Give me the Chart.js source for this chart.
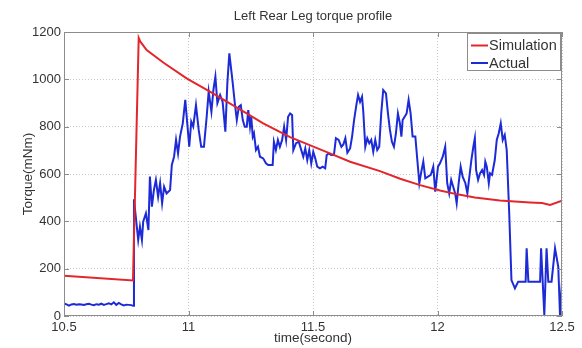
<!DOCTYPE html>
<html>
<head>
<meta charset="utf-8">
<script src="https://cdn.jsdelivr.net/npm/chart.js@4.4.1/dist/chart.umd.min.js"></script>
<style>
  html, body { margin: 0; padding: 0; background: #fff; }
  #c { display: block; }
</style>
</head>
<body>
<canvas id="c" width="582" height="348"></canvas>
<script>
'use strict';

// ── Data ──────────────────────────────────────────────────────────────────────
const TITLE   = 'Left Rear Leg torque profile';
const X_LABEL = 'time(second)';
const Y_LABEL = 'Torque(mNm)';
const X_TICKS = ['10.5', '11', '11.5', '12', '12.5'];
const Y_TICKS = ['0', '200', '400', '600', '800', '1000', '1200'];
const SERIES  = ['Simulation', 'Actual'];

const SIM_T = [10.5, 10.777, 10.8, 10.806, 10.832, 10.9, 10.994, 11.086, 11.247, 11.3,
               11.408, 11.568, 11.649, 11.769, 11.85, 11.93, 12.01, 12.08, 12.15, 12.25,
               12.371, 12.42, 12.452, 12.5];
const SIM_V = [170, 150, 1175, 1160, 1124, 1070, 1003, 948, 848, 814,
               756, 687, 652, 612, 580, 553, 530, 514, 501, 488,
               480, 477, 469, 487];

const ACT_T = [
  10.50, 10.51, 10.52, 10.53, 10.54, 10.55, 10.56, 10.57, 10.58, 10.59,
  10.60, 10.61, 10.62, 10.63, 10.64, 10.65, 10.66, 10.67, 10.68, 10.69,
  10.70, 10.71, 10.72, 10.73, 10.74, 10.75, 10.76, 10.77, 10.778,
  10.781, 10.798, 10.805, 10.813, 10.818, 10.829, 10.839, 10.845, 10.853, 10.861,
  10.869, 10.878, 10.886, 10.894, 10.902, 10.912, 10.926, 10.933, 10.942, 10.950,
  10.958, 10.966, 10.977, 10.987, 10.995, 11.003, 11.011, 11.019, 11.030, 11.041,
  11.051, 11.062, 11.073, 11.081, 11.092, 11.100, 11.108, 11.116, 11.127, 11.137,
  11.148, 11.156, 11.164, 11.177, 11.186, 11.194, 11.202, 11.210, 11.218, 11.226,
  11.234, 11.240, 11.247, 11.252, 11.258, 11.263, 11.271, 11.279, 11.287, 11.300,
  11.311, 11.320, 11.338, 11.343, 11.351, 11.359, 11.367, 11.376, 11.384, 11.392,
  11.400, 11.408, 11.416, 11.421, 11.432, 11.443, 11.453, 11.461, 11.469, 11.477,
  11.485, 11.493, 11.501, 11.509, 11.517, 11.528, 11.539, 11.549, 11.555, 11.563,
  11.573, 11.584, 11.592, 11.603, 11.614, 11.622, 11.630, 11.638, 11.649, 11.657,
  11.665, 11.673, 11.681, 11.689, 11.697, 11.702, 11.710, 11.718, 11.726, 11.734,
  11.742, 11.750, 11.758, 11.766, 11.774, 11.782, 11.793, 11.801, 11.809, 11.817,
  11.825, 11.833, 11.841, 11.849, 11.855, 11.860, 11.868, 11.876, 11.884, 11.892,
  11.900, 11.911, 11.919, 11.927, 11.935, 11.943, 11.951, 11.962, 11.973, 11.983,
  11.991, 12.002, 12.010, 12.021, 12.031, 12.039, 12.047, 12.055, 12.063, 12.071,
  12.077, 12.085, 12.093, 12.101, 12.112, 12.120, 12.128, 12.136, 12.144, 12.150,
  12.155, 12.163, 12.171, 12.179, 12.187, 12.192, 12.198, 12.206, 12.211, 12.219,
  12.230, 12.238, 12.246, 12.254, 12.262, 12.270, 12.278, 12.288, 12.297, 12.311,
  12.324, 12.354, 12.358, 12.365, 12.412, 12.416, 12.429, 12.438, 12.445, 12.458,
  12.472, 12.485, 12.492, 12.500
];
const ACT_V = [
  53, 49, 44, 49, 51, 48, 50, 49, 47, 50,
  52, 48, 46, 50, 48, 52, 47, 50, 54, 49,
  58, 47, 55, 49, 45, 48, 47, 46, 43,
  493, 321, 377, 321, 398, 434, 363, 589, 462, 532,
  575, 504, 561, 476, 546, 518, 532, 638, 673, 744,
  687, 758, 814, 913, 814, 715, 821, 800, 891, 786,
  715, 715, 842, 948, 863, 955, 1011, 899, 934, 905,
  779, 983, 1110, 990, 899, 828, 884, 891, 828, 800,
  800, 870, 800, 842, 758, 772, 701, 715, 673, 666,
  645, 638, 638, 736, 701, 744, 715, 744, 800, 744,
  842, 856, 849, 701, 730, 736, 701, 673, 708, 659,
  701, 645, 694, 666, 631, 624, 631, 624, 680, 687,
  680, 680, 751, 744, 715, 725, 751, 690, 708, 758,
  828, 884, 934, 905, 927, 863, 715, 751, 730, 744,
  694, 744, 701, 715, 856, 955, 941, 856, 786, 736,
  715, 772, 856, 814, 758, 828, 842, 856, 913, 856,
  758, 758, 659, 561, 610, 652, 582, 589, 596, 631,
  525, 631, 645, 673, 715, 561, 518, 575, 546, 518,
  476, 561, 631, 589, 561, 518, 589, 659, 715, 751,
  617, 575, 603, 617, 596, 652, 631, 561, 603, 596,
  659, 744, 772, 814, 744, 765, 701, 434, 152, 117,
  145, 145, 286, 145, 145, 286, 4, 286, 145, 145,
  286, 208, 4, 145
];

// ── Style ─────────────────────────────────────────────────────────────────────
const RED  = '#e3262b';
const BLUE = '#1c2ad8';
const FONT = '"Liberation Sans", Arial, sans-serif';
const TXT  = '#333';

const pts = (ts, vs) => ts.map((t, i) => ({ x: t, y: vs[i] }));

// ── Frame, ticks, titles and legend (MATLAB look) ────────────────────────────
const framePlugin = {
  id: 'frame',
  afterDraw(chart) {
    const { ctx, chartArea: a, scales: { x, y } } = chart;
    ctx.save();
    ctx.strokeStyle = '#8c8c8c';
    ctx.lineWidth = 1;
    ctx.strokeRect(a.left + 0.5, a.top + 0.5, a.width - 1, a.height - 1);

    // inward tick marks
    ctx.beginPath();
    x.ticks.forEach(t => {
      const px = Math.round(x.getPixelForValue(t.value)) + 0.5;
      ctx.moveTo(px, a.bottom); ctx.lineTo(px, a.bottom - 5);
      ctx.moveTo(px, a.top);    ctx.lineTo(px, a.top + 5);
    });
    y.ticks.forEach(t => {
      const py = Math.round(y.getPixelForValue(t.value)) + 0.5;
      ctx.moveTo(a.left, py);  ctx.lineTo(a.left + 5, py);
      ctx.moveTo(a.right, py); ctx.lineTo(a.right - 5, py);
    });
    ctx.stroke();

    // titles
    ctx.fillStyle = TXT;
    ctx.textAlign = 'center';
    ctx.textBaseline = 'middle';
    ctx.font = '13px ' + FONT;
    ctx.fillText(TITLE, (a.left + a.right) / 2, 16);
    ctx.font = '13.5px ' + FONT;
    ctx.fillText(X_LABEL, (a.left + a.right) / 2, 338);
    ctx.save();
    ctx.translate(28, (a.top + a.bottom) / 2);
    ctx.rotate(-Math.PI / 2);
    ctx.fillText(Y_LABEL, 0, 0);
    ctx.restore();

    // legend
    const lx = 467, ly = a.top + 1, lw = a.right - 1 - lx, lh = 38;
    ctx.fillStyle = '#fff';
    ctx.fillRect(lx, ly, lw, lh);
    ctx.strokeStyle = '#8c8c8c';
    ctx.strokeRect(lx + 0.5, ly + 0.5, lw - 1, lh - 1);
    const colors = [RED, BLUE];
    ctx.font = '14.5px ' + FONT;
    ctx.textAlign = 'left';
    SERIES.forEach((name, i) => {
      const ry = ly + 12.5 + i * 17.5;
      ctx.strokeStyle = colors[i];
      ctx.lineWidth = 2;
      ctx.beginPath();
      ctx.moveTo(lx + 4, ry); ctx.lineTo(lx + 21, ry);
      ctx.stroke();
      ctx.fillStyle = TXT;
      ctx.fillText(name, lx + 22, ry + 0.5);
    });
    ctx.restore();
  }
};

// ── Chart ─────────────────────────────────────────────────────────────────────
new Chart(document.getElementById('c').getContext('2d'), {
  type: 'line',
  data: {
    datasets: [
      {
        label: SERIES[0],
        data: pts(SIM_T, SIM_V),
        borderColor: RED,
        borderWidth: 2,
        pointRadius: 0,
        tension: 0,
      },
      {
        label: SERIES[1],
        data: pts(ACT_T, ACT_V),
        borderColor: BLUE,
        borderWidth: 2,
        pointRadius: 0,
        tension: 0,
      }
    ]
  },
  options: {
    responsive: false,
    animation: false,
    devicePixelRatio: 1,
    layout: { padding: { left: 0, right: 20, top: 32, bottom: 0 } },
    plugins: {
      legend:  { display: false },
      tooltip: { enabled: false },
      title:   { display: false }
    },
    scales: {
      x: {
        type: 'linear',
        min: 10.5,
        max: 12.5,
        afterFit: s => { s.height = 32; },
        afterBuildTicks: s => { s.ticks = X_TICKS.map(v => ({ value: +v })); },
        grid:   { color: '#c9c9c9', lineWidth: 1, drawTicks: false },
        border: { display: false, dash: [1, 2] },
        ticks: {
          padding: 4,
          color: TXT,
          font: { family: FONT, size: 13 },
          maxRotation: 0,
          callback: (v, i) => X_TICKS[i]
        }
      },
      y: {
        min: 0,
        max: 1200,
        afterFit: s => { s.width = 64; },
        afterBuildTicks: s => { s.ticks = Y_TICKS.map(v => ({ value: +v })); },
        grid:   { color: '#c9c9c9', lineWidth: 1, drawTicks: false },
        border: { display: false, dash: [1, 2] },
        ticks: {
          padding: 3,
          color: TXT,
          font: { family: FONT, size: 13 },
          callback: (v, i) => Y_TICKS[i]
        }
      }
    }
  },
  plugins: [framePlugin]
});
</script>
</body>
</html>
